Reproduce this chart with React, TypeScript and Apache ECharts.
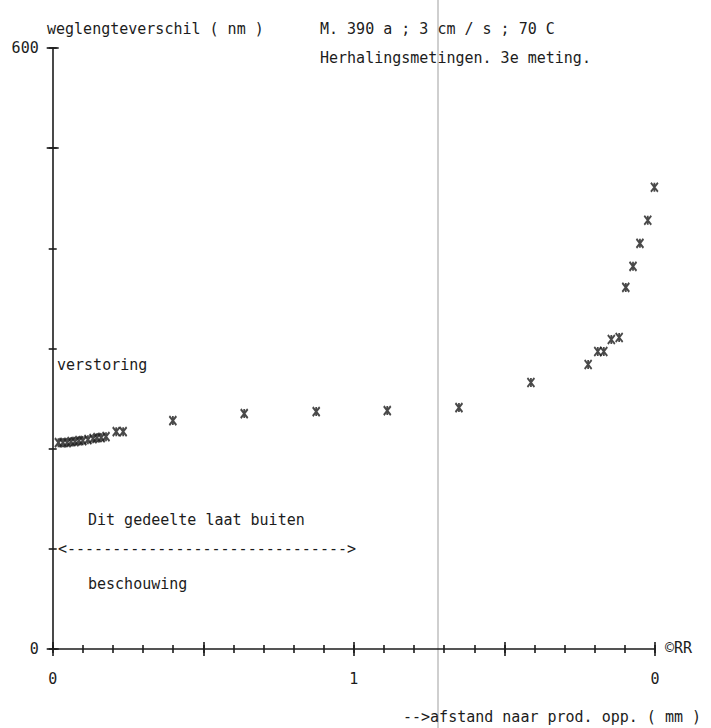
import React, { useEffect, useRef } from "react";
import * as echarts from "echarts";

// distance to product surface (mm) and path length difference (nm)
const xValues = [
  0.019, 0.034, 0.048, 0.061, 0.074, 0.087, 0.1, 0.117, 0.134, 0.147, 0.161, 0.177,
  0.211, 0.234, 0.399, 0.636, 0.875, 1.111, 1.349, 1.588, 1.778, 1.81, 1.83, 1.855,
  1.881, 1.903, 1.927, 1.95, 1.976, 1.998,
];
const yValues = [
  206, 206, 206, 207, 207, 208, 208, 209, 210, 211, 211, 212,
  217, 217, 228, 235, 237, 238, 241, 266, 284, 297, 297, 309,
  311, 361, 382, 405, 428, 461,
];

const xTickValues = [0, 1, 2];
const xTickLabels = ["0", "1", "0"];
const yTickValues = [0, 600];
const yTickLabels = ["0", "600"];

const yTitle = "weglengteverschil ( nm )";
const titleLine1 = "M. 390 a ; 3 cm / s ; 70 C";
const titleLine2 = "Herhalingsmetingen. 3e meting.";
const xTitle = "-->afstand naar prod. opp. ( mm )";
const noteTop = "verstoring";
const noteA = "Dit gedeelte laat buiten";
const noteArrow = "<" + "-".repeat(31) + ">";
const noteB = "beschouwing";
const copyright = "©RR";

const INK = "#1c1c1c";
const FAMILY = '"DejaVu Sans Mono", "Liberation Mono", monospace';
const FONT = "15px " + FAMILY;

function fmtX(v: number): string {
  const i = xTickValues.findIndex((t) => Math.abs(t - v) < 1e-6);
  return i >= 0 ? xTickLabels[i] : "";
}
function fmtY(v: number): string {
  const i = yTickValues.findIndex((t) => Math.abs(t - v) < 1e-6);
  return i >= 0 ? yTickLabels[i] : "";
}

export default function App() {
  const ref = useRef<HTMLDivElement>(null);
  useEffect(() => {
    if (!ref.current) return;
    const chart = echarts.init(ref.current, null, { renderer: "svg" });
    const line = { color: INK, width: 1.6 };
    const baseX = {
      type: "value" as const,
      min: 0,
      max: 2,
      position: "bottom" as const,
      splitLine: { show: false },
      axisLine: { show: false, onZero: false, lineStyle: line },
      axisTick: { show: false },
      axisLabel: { show: false },
    };
    const baseY = {
      type: "value" as const,
      min: 0,
      max: 600,
      position: "left" as const,
      splitLine: { show: false },
      axisLine: { show: false, onZero: false, lineStyle: line },
      axisTick: { show: false },
      axisLabel: { show: false },
    };
    const txt = (text: string, x: number, y: number, align = "left") => ({
      type: "text",
      x,
      y,
      silent: true,
      style: {
        text,
        font: FONT,
        fill: INK,
        textAlign: align,
        textVerticalAlign: "middle",
      },
    });
    chart.setOption({
      animation: false,
      backgroundColor: "#fff",
      grid: { left: 52.7, right: 56, top: 48, bottom: 79, containLabel: false },
      xAxis: [
        {
          ...baseX,
          interval: 0.5,
          axisLine: { show: true, onZero: false, lineStyle: line },
          axisLabel: {
            show: true,
            formatter: fmtX,
            margin: 22,
            color: INK,
            fontSize: 15,
            fontFamily: FAMILY,
          },
        },
        {
          ...baseX,
          interval: 0.1,
          offset: -4,
          axisTick: { show: true, inside: false, length: 8, lineStyle: line },
        },
        {
          ...baseX,
          interval: 0.5,
          offset: -7,
          axisTick: { show: true, inside: false, length: 14, lineStyle: line },
        },
      ],
      yAxis: [
        {
          ...baseY,
          interval: 100,
          axisLine: { show: true, onZero: false, lineStyle: line },
          axisLabel: {
            show: true,
            formatter: fmtY,
            margin: 14,
            color: INK,
            fontSize: 15,
            fontFamily: FAMILY,
          },
        },
        {
          ...baseY,
          interval: 100,
          offset: -4,
          axisTick: { show: true, inside: false, length: 8, lineStyle: line },
        },
        {
          ...baseY,
          interval: 500,
          offset: -6,
          axisTick: { show: true, inside: false, length: 12, lineStyle: line },
        },
      ],
      series: [
        {
          type: "scatter",
          xAxisIndex: 0,
          yAxisIndex: 0,
          symbol: "path://M0,0L8,10M8,0L0,10M4,0L4,10",
          symbolSize: [7, 9],
          itemStyle: { color: INK, borderColor: INK, borderWidth: 2 },
          data: xValues.map((x, i) => [x, yValues[i]]),
        },
      ],
      graphic: [
        {
          type: "line",
          silent: true,
          shape: { x1: 438, y1: 0, x2: 438, y2: 728 },
          style: { stroke: "#cfcfcf", lineWidth: 2 },
          z: -1,
        },
        txt(yTitle, 47, 29),
        txt(titleLine1, 320, 29),
        txt(titleLine2, 320, 58),
        txt(noteTop, 57, 365),
        txt(noteA, 88, 520),
        txt(noteArrow, 58, 549),
        txt(noteB, 88, 584),
        txt(copyright, 665, 648),
        txt(xTitle, 403, 717),
      ],
    });
    return () => chart.dispose();
  }, []);
  return (
    <div
      ref={ref}
      style={{ position: "absolute", left: 0, top: 0, width: 711, height: 728, background: "#fff" }}
    />
  );
}
